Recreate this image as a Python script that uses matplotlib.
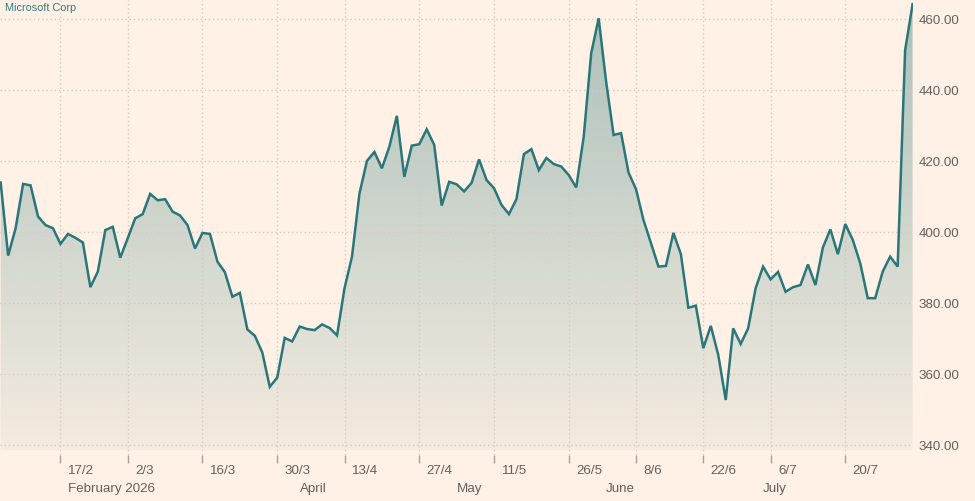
import numpy as np
import matplotlib
matplotlib.use("Agg")
import matplotlib.pyplot as plt
from matplotlib.transforms import blended_transform_factory

plt.rcParams['font.family'] = ['Liberation Sans', 'DejaVu Sans']

# Microsoft Corp closing prices, one per trading day (4 Feb - 31 Jul 2026)
prices = [
    414.0, 393.4, 401.1, 413.6, 413.2, 404.4, 402.0, 401.1, 396.7, 399.5,
    398.4, 397.1, 384.5, 388.9, 400.6, 401.5, 392.8, 398.3, 403.9, 405.1,
    410.8, 409.0, 409.3, 405.8, 404.7, 402.0, 395.4, 399.8, 399.5, 391.7,
    388.7, 381.8, 382.9, 372.6, 370.8, 366.1, 356.4, 359.0, 370.2, 369.2,
    373.4, 372.7, 372.4, 374.0, 373.0, 370.9, 384.2, 393.1, 410.9, 420.1,
    422.6, 418.0, 424.1, 432.8, 415.6, 424.4, 424.8, 429.0, 424.6, 407.5,
    414.2, 413.5, 411.5, 413.9, 420.5, 414.7, 412.4, 407.7, 405.1, 409.3,
    422.0, 423.4, 417.5, 420.9, 419.2, 418.5, 416.1, 412.6, 426.9, 450.4,
    460.3, 442.4, 427.4, 427.9, 416.8, 412.1, 403.4, 396.9, 390.3, 390.5,
    399.8, 393.8, 378.7, 379.3, 367.3, 373.6, 365.4, 352.7, 372.9, 368.5,
    372.9, 384.2, 390.3, 386.7, 388.8, 383.2, 384.5, 385.1, 390.9, 385.1,
    395.7, 400.8, 393.8, 402.3, 397.8, 391.2, 381.4, 381.4, 388.9, 393.1,
    390.3, 451.3, 464.3,
]

# x positions of the labelled days (trading-day index)
tick_idx = [8, 17, 27, 37, 46, 56, 66, 76, 85, 94, 103, 113]
tick_labels = ['17/2', '2/3', '16/3', '30/3', '13/4', '27/4', '11/5',
               '26/5', '8/6', '22/6', '6/7', '20/7']
month_idx = [8, 39, 60, 80, 101]
month_labels = ['February 2026', 'April', 'May', 'June', 'July']
y_ticks = [340, 360, 380, 400, 420, 440, 460]

bg = '#fff1e5'
teal = '#29777a'
grid_col = '#d6cabe'
text_col = '#66605c'

x = np.arange(len(prices))
y = np.array(prices)

W, H = 975, 501
fig = plt.figure(figsize=(W / 100, H / 100), dpi=100, facecolor=bg)
ax = fig.add_axes([0, 1 - 455 / H, 912.6 / W, 455 / H], facecolor=bg)

ylo, yhi = 337.2, 465.44
ax.set_xlim(-0.09, 122.0)
ax.set_ylim(ylo, yhi)

# gradient fill under the line
base = 338.6
poly = ax.fill_between(x, y, base, color='none', lw=0)
grad = np.zeros((256, 1, 4))
teal_rgb = np.array(matplotlib.colors.to_rgb(teal))
alpha = np.linspace(0.40, 0.05, 256)
grad[:, 0, :3] = teal_rgb
grad[:, 0, 3] = alpha
img = ax.imshow(grad, extent=[-0.09, 122.0, base, 465.4], origin='upper',
                aspect='auto', zorder=1, interpolation='bilinear')
path = poly.get_paths()[0]
img.set_clip_path(path, transform=ax.transData)

# grid
for v in y_ticks:
    ax.axhline(v, color=grid_col, lw=1, ls=(0, (1, 2)), zorder=2)
for t in tick_idx:
    ax.axvline(t, color=grid_col, lw=1, ls=(0, (1, 2)), zorder=2)

ax.plot(x, y, color=teal, lw=1.8, zorder=3, solid_joinstyle='miter')

for s in ax.spines.values():
    s.set_visible(False)

ax.yaxis.tick_right()
ax.set_yticks(y_ticks)
ax.set_yticklabels([f'{v:.2f}' for v in y_ticks])
ax.tick_params(axis='y', length=0, pad=4.2, labelsize=9.6, labelcolor=text_col)

ax.set_xticks(tick_idx)
ax.set_xticklabels([])
ax.tick_params(axis='x', direction='out', length=5.8, width=1,
               color='#a8a09a')

trans = blended_transform_factory(ax.transData, fig.transFigure)
for t, lab in zip(tick_idx, tick_labels):
    ax.text(t + 1.0, 1 - 474 / H, lab, transform=trans, ha='left',
            va='baseline', fontsize=9.6, color=text_col)
for t, lab in zip(month_idx, month_labels):
    ax.text(t + 1.0, 1 - 492 / H, lab, transform=trans, ha='left',
            va='baseline', fontsize=9.6, color=text_col)

fig.text(5 / W, 1 - 10.7 / H, 'Microsoft Corp', ha='left', va='baseline',
         fontsize=7.8, color='#2f7d82')

fig.savefig('out.png', dpi=100, facecolor=bg)
